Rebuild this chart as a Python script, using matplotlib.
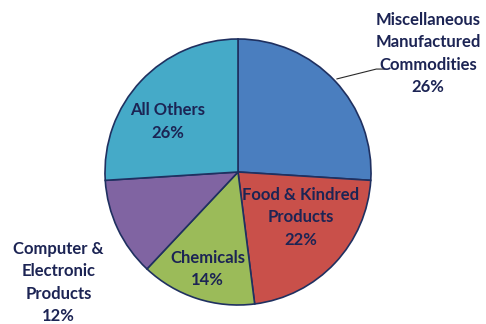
import matplotlib.pyplot as plt

labels = ['Miscellaneous\nManufactured\nCommodities', 'Food & Kindred\nProducts', 'Chemicals',
          'Computer &\nElectronic\nProducts', 'All Others']
shares = [26, 22, 14, 12, 26]
colors = ['#4A7EBF', '#C9504A', '#9BBB59', '#8064A2', '#45AAC8']

# label centres in axes data units (pie radius = 1)
label_pos = [(1.43, 0.89), (0.47, -0.34), (-0.23, -0.73), (-1.35, -0.83), (-0.53, 0.38)]
navy = '#1C2454'

fig = plt.figure(figsize=(4.86, 3.24), dpi=100)
ax = fig.add_axes([105 / 486, 19 / 324, 266 / 486, 266 / 324])
ax.pie(shares, colors=colors, startangle=90, counterclock=False,
       wedgeprops=dict(edgecolor='#1F3060', linewidth=1.2))
ax.set_xlim(-1, 1)
ax.set_ylim(-1, 1)
ax.set_aspect('equal')

for lab, val, (x, y) in zip(labels, shares, label_pos):
    ax.text(x, y, lab + '\n' + str(val) + '%', ha='center', va='center', fontsize=12,
            color=navy, family='Lato', fontweight='bold', linespacing=1.5, clip_on=False)

# leader line for the outside label
ax.plot([0.744, 1.04, 1.1], [0.70, 0.774, 0.774], color='#2A2A2A', linewidth=0.8, clip_on=False)

fig.savefig('out.png', dpi=100)
